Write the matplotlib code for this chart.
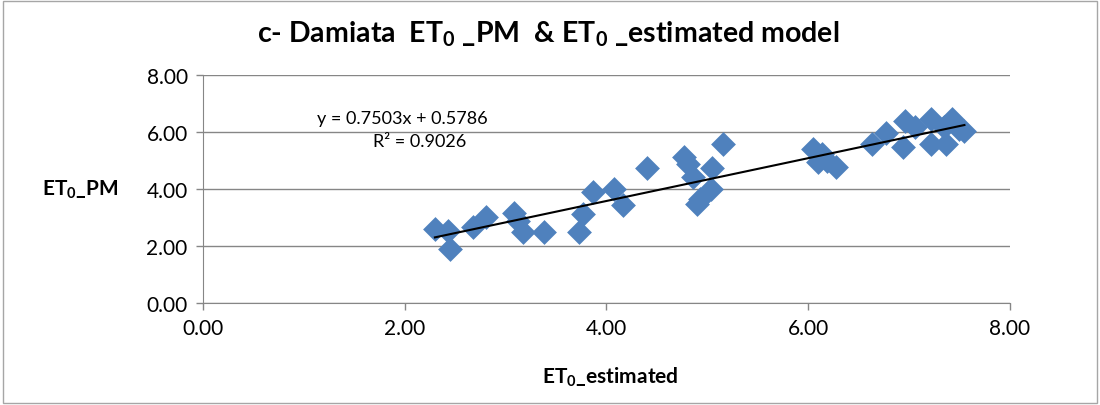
import matplotlib
matplotlib.use("Agg")
import matplotlib.pyplot as plt
from matplotlib.patches import Rectangle

plt.rcParams["font.family"] = ["Lato", "DejaVu Sans"]
plt.rcParams["mathtext.fontset"] = "custom"
plt.rcParams["mathtext.rm"] = "Lato"
plt.rcParams["mathtext.bf"] = "Lato:bold"

# ET0 estimated by the model (x) against ET0 Penman-Monteith (y), Damiata station
et0_estimated = [2.30, 2.43, 2.45, 2.68, 2.81, 3.08, 3.12, 3.17, 3.38, 3.73,
                 3.77, 3.87, 4.08, 4.16, 4.40, 4.77, 4.81, 4.86, 4.90, 4.93,
                 5.04, 5.05, 5.16, 6.05, 6.10, 6.14, 6.19, 6.28, 6.63, 6.77,
                 6.94, 6.96, 7.06, 7.22, 7.22, 7.35, 7.37, 7.43, 7.50, 7.55]
et0_pm = [2.60, 2.53, 1.89, 2.67, 3.02, 3.16, 2.88, 2.49, 2.49, 2.49,
          3.12, 3.89, 4.00, 3.44, 4.74, 5.12, 4.88, 4.42, 3.47, 3.65,
          4.00, 4.74, 5.58, 5.40, 4.95, 5.23, 4.98, 4.77, 5.58, 5.96,
          5.47, 6.39, 6.18, 6.46, 5.58, 6.18, 5.58, 6.46, 6.11, 6.04]

# linear trendline as reported on the chart
slope = 0.7503
intercept = 0.5786
r_squared = 0.9026

fig = plt.figure(figsize=(11, 4.06), dpi=100)
fig.patches.append(Rectangle((0.003, 0.005), 0.994, 0.99, transform=fig.transFigure,
                             fill=False, edgecolor="#a6a6a6", linewidth=1))
ax = fig.add_axes([0.1845, 0.251, 0.7335, 0.562])

ax.scatter(et0_estimated, et0_pm, marker="D", s=160, color="#4f81bd", zorder=3, linewidths=0)
x0, x1 = min(et0_estimated), max(et0_estimated)
ax.plot([x0, x1], [slope * x0 + intercept, slope * x1 + intercept], color="black", lw=1.5, zorder=4)

ax.set_xlim(0, 8)
ax.set_ylim(0, 8)
ax.set_xticks([0, 2, 4, 6, 8])
ax.set_yticks([0, 2, 4, 6, 8])
ax.set_xticklabels([f"{v:.2f}" for v in ax.get_xticks()])
ax.set_yticklabels([f"{v:.2f}" for v in ax.get_yticks()])
ax.tick_params(labelsize=15, length=5, color="#868686", width=1, pad=6)
ax.grid(axis="y", color="#868686", linewidth=1)
ax.set_axisbelow(True)
for side in ("top", "right"):
    ax.spines[side].set_visible(False)
for side in ("left", "bottom"):
    ax.spines[side].set_color("#868686")

fig.text(0.498, 0.915, r"c- Damiata  ET$_\mathbf{0}$ _PM  & ET$_\mathbf{0}$ _estimated model",
         ha="center", va="center", fontsize=20.5, fontweight="bold")
fig.text(0.073, 0.532, r"ET$_\mathbf{0}$_PM", ha="center", va="center", fontsize=15, fontweight="bold")
fig.text(0.555, 0.072, r"ET$_\mathbf{0}$_estimated", ha="center", va="center", fontsize=15, fontweight="bold")

ax.text(1.98, 6.5, f"y = {slope:.4f}x + {intercept:.4f}", ha="center", va="center", fontsize=13)
ax.text(2.15, 5.68, f"R² = {r_squared:.4f}", ha="center", va="center", fontsize=13)

fig.savefig("out.png", dpi=100)
